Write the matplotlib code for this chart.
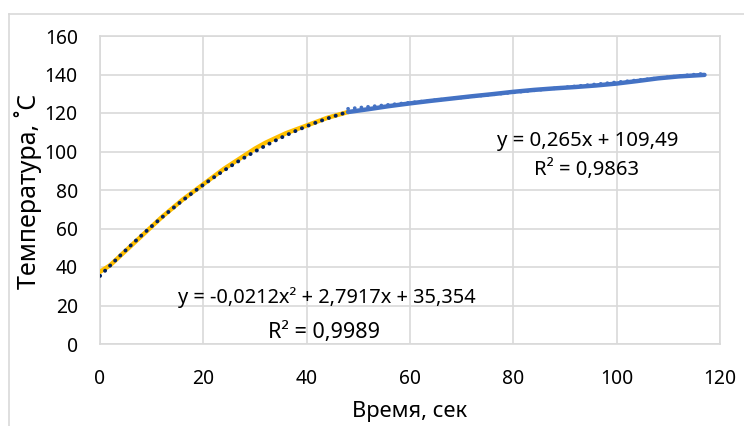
import matplotlib
matplotlib.use("Agg")
import matplotlib.pyplot as plt
import numpy as np
from matplotlib.lines import Line2D

FONT = ['Noto Sans', 'DejaVu Sans']
plt.rcParams['font.family'] = FONT

# Heating stage data (yellow)
t1 = [0, 2, 4, 6, 8, 10, 12, 14, 16, 18, 20, 22, 24, 26, 28, 30, 32, 34, 36, 38, 40, 42, 44, 46, 48]
T1 = [37.5, 41.0, 46.0, 51.0, 56.0, 61.0, 66.0, 70.5, 75.0, 79.0, 83.0, 87.0, 91.0, 94.5, 98.0, 101.5, 104.5, 107.0, 109.5, 111.5, 113.5, 115.5, 117.5, 119.0, 120.5]
# Second stage data (blue)
t2 = [48, 52, 56, 60, 64, 68, 72, 76, 80, 84, 88, 92, 96, 100, 104, 108, 112, 117]
T2 = [120.5, 122.0, 123.6, 125.0, 126.3, 127.5, 128.7, 129.8, 131.0, 132.0, 132.8, 133.5, 134.3, 135.3, 136.6, 138.0, 139.0, 139.8]

# Trendline coefficients as printed on the chart
poly_coef = [-0.0212, 2.7917, 35.354]
lin_coef = [0.265, 109.49]

xticks = [0, 20, 40, 60, 80, 100, 120]
yticks = [0, 20, 40, 60, 80, 100, 120, 140, 160]

W, H = 744, 426
fig = plt.figure(figsize=(W/100, H/100), dpi=100)
L, R, B, T = 100, 720, 344, 36
ax = fig.add_axes([L/W, 1-B/H, (R-L)/W, (B-T)/H])

ax.plot(t1, T1, color='#FFC000', lw=3.2, solid_capstyle='round', zorder=3)
ax.plot(t2, T2, color='#4472C4', lw=3.2, solid_capstyle='round', zorder=3)

tp = np.linspace(t1[0], t1[-1], 200)
ax.plot(tp, np.polyval(poly_coef, tp), color='#002060', lw=2.8, ls=(0, (0.05, 1.8)),
        dash_capstyle='round', zorder=4)
tl = np.linspace(t2[0], t2[-1], 200)
ax.plot(tl, np.polyval(lin_coef, tl), color='#4472C4', lw=2.6, ls=(0, (0.05, 1.8)),
        dash_capstyle='round', zorder=2)

ax.set_xlim(0, 120)
ax.set_ylim(0, 160)
ax.set_xticks(xticks)
ax.set_yticks(yticks)
ax.set_xticklabels([str(v) for v in xticks])
ax.set_yticklabels([str(v) for v in yticks])
ax.grid(True, color='#D9D9D9', lw=1.2)
ax.set_axisbelow(True)
for s in ax.spines.values():
    s.set_color('#D9D9D9')
    s.set_linewidth(1.2)

renderer = fig.canvas.get_renderer()

def fit(txt, target, vertical=False):
    for _ in range(3):
        bb = txt.get_window_extent(renderer)
        cur = bb.height if vertical else bb.width
        txt.set_fontsize(txt.get_fontsize() * target / cur)

# tick label size fitted to reference width of "160" (~33 px)
probe = fig.text(0, 0, '160', fontsize=13)
fit(probe, 33)
tick_fs = probe.get_fontsize()
probe.remove()
ax.tick_params(length=0, labelsize=tick_fs, colors='black')
ax.tick_params(axis='y', pad=16)
ax.tick_params(axis='x', pad=18)

# axis labels placed in pixel positions
xl = fig.text(410/W, 1-411/H, 'Время, сек', ha='center', va='center', fontsize=14)
fit(xl, 115)
yl = fig.text(28/W, 1-191/H, 'Температура, ˚С', ha='center', va='center',
              rotation=90, fontsize=14)
fit(yl, 195, vertical=True)

# trendline equations
def px2data(px, py):
    return (px-L)/(R-L)*120, (B-py)/(B-T)*160

eqs = [
    ('y = 0,265x + 109,49', 588, 146, 182),
    ('R² = 0,9863', 587, 175, 105),
    ('y = -0,0212x² + 2,7917x + 35,354', 327, 303, 297),
    ('R² = 0,9989', 324, 338, 112),
]
for s, px, py, wpx in eqs:
    x, y = px2data(px, py)
    t = ax.text(x, y, s, ha='center', va='baseline', fontsize=13)
    fit(t, wpx)

# chart border (left and top edges visible)
fig.add_artist(Line2D([8.5/W, 8.5/W], [0, 1-14/H], transform=fig.transFigure, color='#D9D9D9', lw=1.2))
fig.add_artist(Line2D([8.5/W, 1], [1-14/H, 1-14/H], transform=fig.transFigure, color='#D9D9D9', lw=1.2))

fig.savefig('out.png', dpi=100)
